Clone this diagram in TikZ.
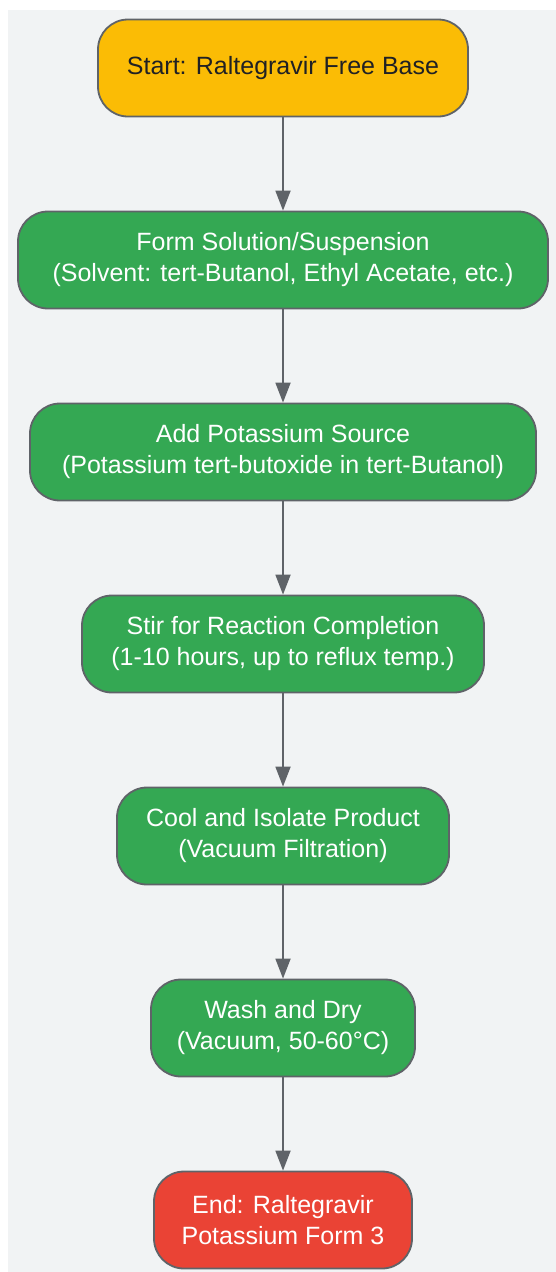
\documentclass[tikz,border=0pt]{standalone}
\usepackage{fontspec}
\setmainfont{Liberation Sans}
\usetikzlibrary{arrows.meta}
\definecolor{bgc}{HTML}{F1F3F4}
\definecolor{edgec}{HTML}{5F6368}
\definecolor{startc}{HTML}{FBBC05}
\definecolor{stepc}{HTML}{34A853}
\definecolor{endc}{HTML}{EA4335}
\definecolor{darktext}{HTML}{202124}
\tikzset{
  box/.style={draw=edgec, line width=1.8pt, rounded corners=30pt, minimum height=97pt, align=center, inner sep=0pt, font=\fontsize{25}{31}\selectfont},
  startbox/.style={box, fill=startc, text=darktext},
  stepbox/.style={box, fill=stepc, text=white},
  endbox/.style={box, fill=endc, text=white},
  conn/.style={draw=edgec, line width=1.8pt, -{Triangle[length=20pt,width=15pt]}}
}
\begin{document}
\begin{tikzpicture}[x=1pt,y=-1pt]
\useasboundingbox (0,0) rectangle (556,1272);
\fill[bgc] (8,10) rectangle (556,1272);
\node[startbox, minimum width=370pt] (n1) at (283,68) {Start: Raltegravir Free Base};
\node[stepbox, minimum width=530pt] (n2) at (283,260) {Form Solution/Suspension\\(Solvent: tert-Butanol, Ethyl Acetate, etc.)};
\node[stepbox, minimum width=506pt] (n3) at (283,452) {Add Potassium Source\\(Potassium tert-butoxide in tert-Butanol)};
\node[stepbox, minimum width=402pt] (n4) at (283,644) {Stir for Reaction Completion\\(1-10 hours, up to reflux temp.)};
\node[stepbox, minimum width=332pt] (n5) at (283,836) {Cool and Isolate Product\\(Vacuum Filtration)};
\node[stepbox, minimum width=264pt] (n6) at (283,1028) {Wash and Dry\\(Vacuum, 50-60°C)};
\node[endbox, minimum width=258pt] (n7) at (283,1220) {End: Raltegravir\\Potassium Form 3};
\draw[conn] (n1) -- (n2);
\draw[conn] (n2) -- (n3);
\draw[conn] (n3) -- (n4);
\draw[conn] (n4) -- (n5);
\draw[conn] (n5) -- (n6);
\draw[conn] (n6) -- (n7);
\end{tikzpicture}
\end{document}
